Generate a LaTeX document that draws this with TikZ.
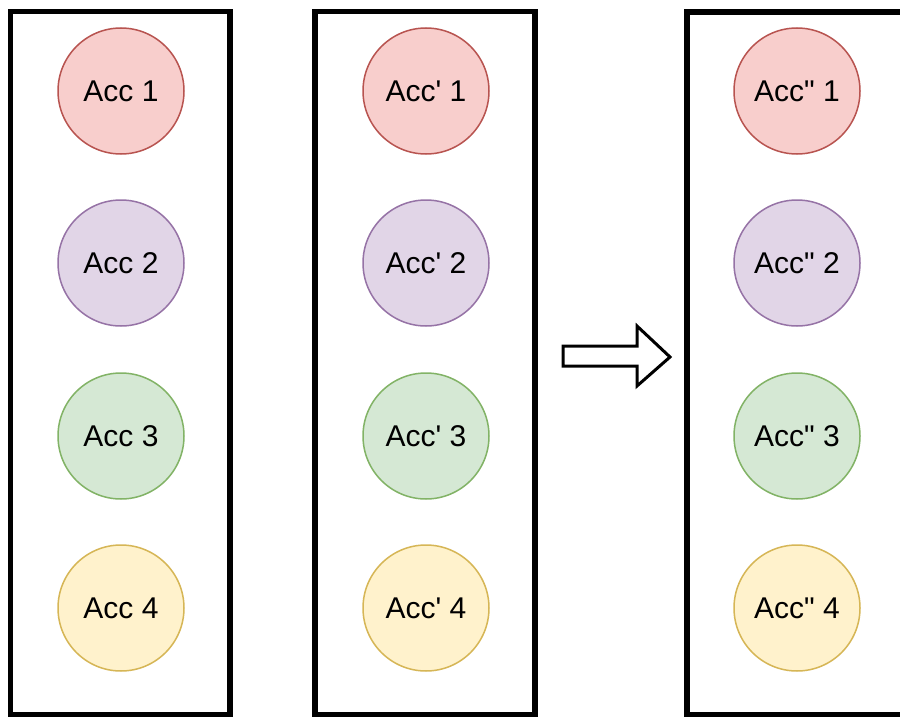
\documentclass[tikz,border=0pt]{standalone}
\usepackage{fontspec}
\setmainfont{Liberation Sans}[Ligatures=TeXOff]
\definecolor{rf}{HTML}{F8CECC}\definecolor{rs}{HTML}{B85450}
\definecolor{pf}{HTML}{E1D5E7}\definecolor{ps}{HTML}{9673A6}
\definecolor{gf}{HTML}{D5E8D4}\definecolor{gs}{HTML}{82B366}
\definecolor{yf}{HTML}{FFF2CC}\definecolor{ys}{HTML}{D6B656}
\newcommand{\sq}{\symbol{39}}
\newcommand{\dq}{\symbol{34}}
\tikzset{
  acc/.style={circle, minimum size=126pt, inner sep=0pt, line width=1.5pt, font=\fontsize{30}{33}\selectfont},
  red/.style={acc, fill=rf, draw=rs},
  purple/.style={acc, fill=pf, draw=ps},
  green/.style={acc, fill=gf, draw=gs},
  yellow/.style={acc, fill=yf, draw=ys},
  frame/.style={draw=black, line width=5.5pt},
}
\begin{document}
\begin{tikzpicture}[x=1pt,y=-1pt]
\useasboundingbox (0,0) rectangle (900,717);
\clip (0,0) rectangle (900,717);
\fill[white] (0,0) rectangle (900,717);
\draw[frame] (10.5,11.5) rectangle (230,715);
\draw[frame] (315,11.5) rectangle (535,715);
\draw[frame] (687,12) rectangle (930,715);
\node[red]    (a1) at (121,91)  {Acc 1};
\node[purple] (a2) at (121,263) {Acc 2};
\node[green]  (a3) at (121,436) {Acc 3};
\node[yellow] (a4) at (121,608) {Acc 4};
\node[red]    (b1) at (426,91)  {Acc\sq\ 1};
\node[purple] (b2) at (426,263) {Acc\sq\ 2};
\node[green]  (b3) at (426,436) {Acc\sq\ 3};
\node[yellow] (b4) at (426,608) {Acc\sq\ 4};
\node[red]    (c1) at (797,91)  {Acc\dq\ 1};
\node[purple] (c2) at (797,263) {Acc\dq\ 2};
\node[green]  (c3) at (797,436) {Acc\dq\ 3};
\node[yellow] (c4) at (797,608) {Acc\dq\ 4};
\coordinate (arr) at (563,356);
\draw[line width=3pt, fill=white, line join=miter]
  (arr) ++(0,-10) -- ++(74,0) -- ++(0,-20) -- (670,357) -- (637,386) -- (637,366) -- (563,366) -- cycle;
\end{tikzpicture}
\end{document}
